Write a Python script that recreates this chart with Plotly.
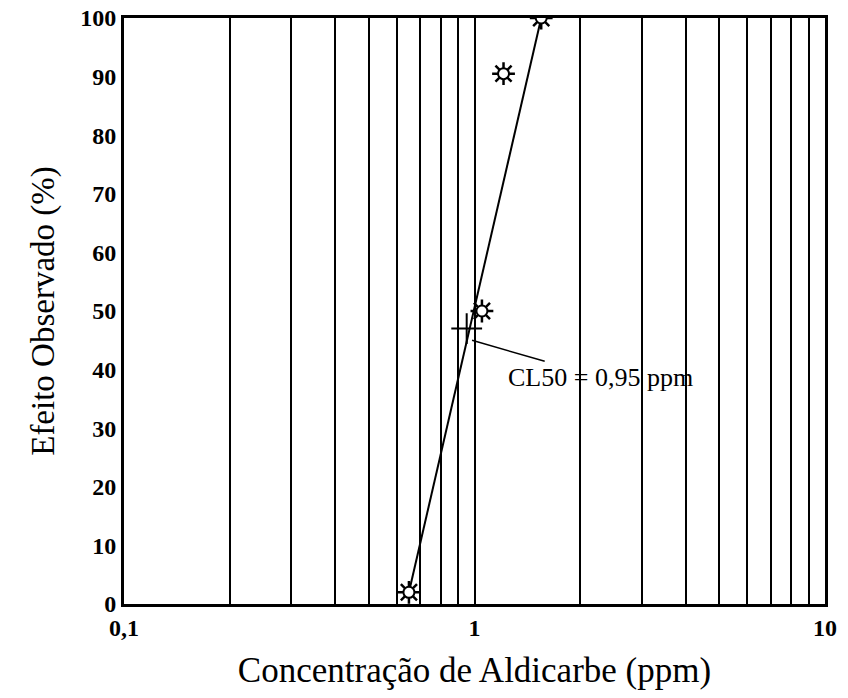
import plotly.graph_objects as go

# Observed data (concentration ppm, effect %)
conc = [0.65, 1.05, 1.21, 1.55]
effect = [2, 50, 90.5, 100]

# Fitted line endpoints
fit_conc = [0.65, 1.55]
fit_effect = [2, 100]

# CL50 point
cl50_conc = [0.95]
cl50_effect = [47]

x_tickvals = [0.1, 0.2, 0.3, 0.4, 0.5, 0.6, 0.7, 0.8, 0.9,
              1, 2, 3, 4, 5, 6, 7, 8, 9, 10]
x_ticktext = ["0,1", "", "", "", "", "", "", "", "",
              "1", "", "", "", "", "", "", "", "", "10"]
y_tickvals = [0, 10, 20, 30, 40, 50, 60, 70, 80, 90, 100]
y_ticktext = ["0", "10", "20", "30", "40", "50", "60", "70", "80", "90", "100"]

fig = go.Figure()

fig.add_trace(go.Scatter(x=fit_conc, y=fit_effect, mode="lines",
                         line=dict(color="black", width=2), showlegend=False))
# sun-like marker: spikes + circle
fig.add_trace(go.Scatter(x=conc, y=effect, mode="markers",
                         marker=dict(symbol="asterisk-open", size=19, color="black",
                                     line=dict(color="black", width=2.5)),
                         showlegend=False))
fig.add_trace(go.Scatter(x=conc, y=effect, mode="markers",
                         marker=dict(symbol="circle", size=11, color="white",
                                     line=dict(color="black", width=2)),
                         showlegend=False))
fig.add_trace(go.Scatter(x=cl50_conc, y=cl50_effect, mode="markers",
                         marker=dict(symbol="cross-thin-open", size=22, color="black",
                                     line=dict(color="black", width=2)),
                         showlegend=False))

fig.add_annotation(x=-0.007, y=45, xref="x", yref="y",
                   text="CL50 = 0,95 ppm", showarrow=True,
                   arrowhead=0, arrowwidth=1.5, arrowcolor="black",
                   ax=128, ay=37, xanchor="center",
                   font=dict(family="Liberation Serif", size=26, color="black"))

serif = "Liberation Serif"
fig.update_layout(
    width=848, height=698,
    margin=dict(l=124, r=23, t=18, b=94, autoexpand=False),
    plot_bgcolor="white", paper_bgcolor="white",
    font=dict(family=serif, color="black"),
    xaxis=dict(type="log", range=[-1, 1],
               tickvals=x_tickvals,
               ticktext=["<b>" + t + "</b>" if t else "" for t in x_ticktext],
               ticks="", showgrid=True, gridcolor="black", gridwidth=2,
               showline=True, linecolor="black", linewidth=3, mirror=True,
               zeroline=False, automargin=False,
               tickfont=dict(family=serif, size=24, color="black"),
               title=dict(text="Concentração de Aldicarbe (ppm)",
                          font=dict(family=serif, size=35, color="black"), standoff=18)),
    yaxis=dict(range=[0, 100], tickvals=y_tickvals,
               ticktext=["<b>" + t + "</b>" for t in y_ticktext],
               ticks="", showgrid=False,
               showline=True, linecolor="black", linewidth=3, mirror=True,
               zeroline=False, automargin=False,
               tickfont=dict(family=serif, size=24, color="black"),
               title=dict(text="Efeito Observado (%)",
                          font=dict(family=serif, size=33, color="black"), standoff=16)),
)

fig.write_html("out.html", config={"displayModeBar": False},
               post_script="document.body.style.margin='0';")
